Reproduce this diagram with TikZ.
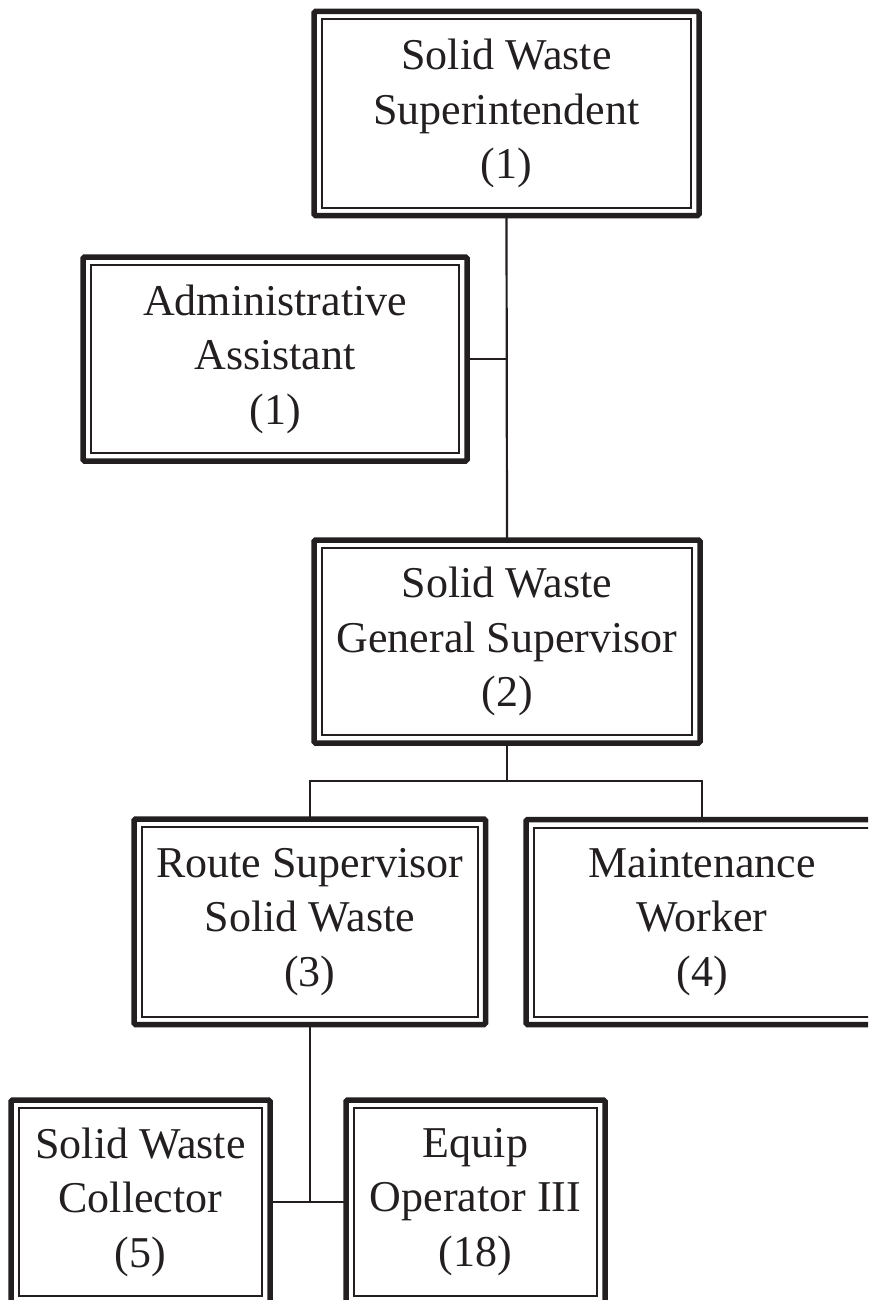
\documentclass[tikz,border=0pt]{standalone}
\usepackage{fontspec}
\setmainfont{Liberation Serif}
\definecolor{ink}{HTML}{231F20}
\begin{document}
\begin{tikzpicture}[x=1pt,y=-1pt,
  orgbox/.style={draw=ink, line width=5.5pt, rectangle, rounded corners=1.5pt,
    outer sep=0pt, inner sep=0pt, align=center,
    font=\fontsize{44}{54.5}\selectfont, text=ink},
  conn/.style={draw=ink, line width=2.2pt},
  innerline/.style={draw=ink, line width=2pt}]
\useasboundingbox (0,0) rectangle (868,1300);
\clip (0,0) rectangle (868,1300);

\node[orgbox, minimum width=385pt, minimum height=204pt] (sup) at (506.5,113.5)
  {Solid Waste\\Superintendent\\(1)};
\node[orgbox, minimum width=384pt, minimum height=204pt] (admin) at (275,359)
  {Administrative\\Assistant\\(1)};
\node[orgbox, minimum width=386pt, minimum height=203pt] (gen) at (507,641.5)
  {Solid Waste\\General Supervisor\\(2)};
\node[orgbox, minimum width=351.5pt, minimum height=205.5pt] (route) at (309.75,921.75)
  {Route Supervisor\\Solid Waste\\(3)};
\node[orgbox, minimum width=352pt, minimum height=205pt] (maint) at (702,922)
  {Maintenance\\Worker\\(4)};
\node[orgbox, minimum width=259pt, minimum height=204pt] (coll) at (140.5,1202)
  {Solid Waste\\Collector\\(5)};
\node[orgbox, minimum width=259pt, minimum height=204pt] (equip) at (475.5,1202)
  {Equip\\Operator III\\(18)};

\foreach \n in {sup,admin,gen,route,maint,coll,equip}
  \draw[innerline] ([shift={(8,8)}]\n.north west) rectangle ([shift={(-8,-8)}]\n.south east);

% connectors
\coordinate (gj) at (507,781);
\draw[conn] (sup.south) -- (gen.north);
\draw[conn] (admin.east) -- (admin.east -| sup.south);
\draw[conn] (gen.south) -- (gj);
\draw[conn] (route.north) |- (gj) -| (maint.north);
\draw[conn] (route.south) -- (route.south |- coll.east);
\draw[conn] (coll.east) -- (equip.west);
\end{tikzpicture}
\end{document}
